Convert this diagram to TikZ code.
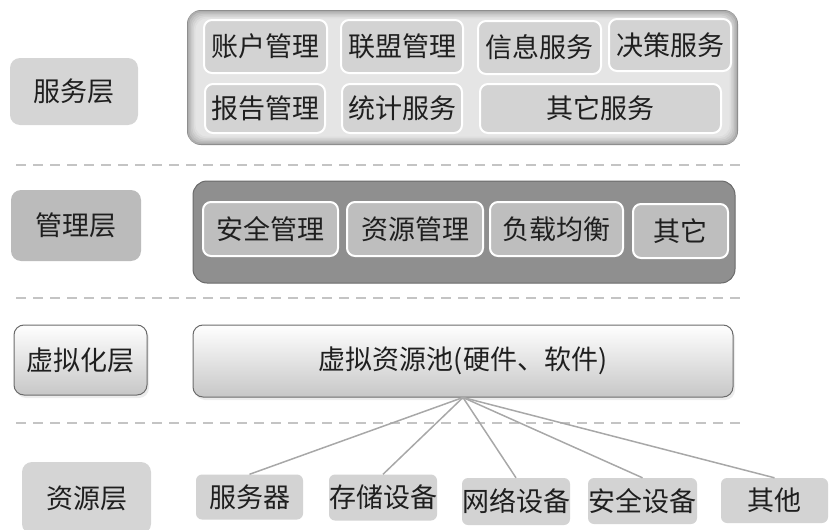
\documentclass[tikz,border=0pt]{standalone}
\usepackage{fontspec}
\newfontfamily\cjk{Noto Sans CJK SC}
\usetikzlibrary{shapes,backgrounds,positioning,shadows,calc}

\definecolor{tagA}{HTML}{D5D5D5}
\definecolor{tagB}{HTML}{BBBBBB}
\definecolor{cellA}{HTML}{D3D3D3}
\definecolor{cellB}{HTML}{BEBEBE}
\definecolor{mgtfill}{HTML}{8F8F8F}
\definecolor{mgtline}{HTML}{6A6A6A}
\definecolor{rimgray}{HTML}{8A8A8A}
\definecolor{dashgray}{HTML}{C4C4C4}
\definecolor{linkgray}{HTML}{A8A8A8}

\begin{document}
\begin{tikzpicture}[x=1pt,y=-1pt,
        every node/.style={font=\cjk\fontsize{27}{32}\selectfont, text=black!88, inner sep=0pt},
        divider/.style={dashgray, line width=2.5pt, dash pattern=on 10pt off 7pt},
        tag/.style={rounded corners=10pt, fill=tagA},
        glossy/.style={rounded corners=10pt, top color=white, bottom color=black!22,
            draw=black!58, line width=1pt,
            drop shadow={opacity=0.15, shadow xshift=2pt, shadow yshift=-3pt}},
        svccell/.style={rounded corners=8pt, fill=cellA, draw=white, line width=2pt},
        mgtcell/.style={rounded corners=8pt, fill=cellB, draw=white, line width=2pt},
        rescell/.style={rounded corners=6pt, fill=cellA},
        link/.style={linkgray, line width=1.5pt}
    ]
    \useasboundingbox (0,0) rectangle (831,530);

    % layer dividers
    \foreach \yy in {165,298,423}
        \draw[divider] (16,\yy) -- (742,\yy);

    % layer names
    \node[tag, minimum width=128pt, minimum height=67pt] (lsvc) at (74,91.5) {服务层};
    \node[tag, fill=tagB, minimum width=130pt, minimum height=71pt] (lmgt) at (76,225.5) {管理层};
    \node[glossy, minimum width=133pt, minimum height=70pt] (lvir) at (80.5,360) {虚拟化层};
    \node[tag, minimum width=129pt, minimum height=72pt] (lres) at (86.5,498) {资源层};

    % service layer
    \node[rounded corners=14pt, fill=rimgray, minimum width=551pt, minimum height=135pt] (svc) at (462.5,77.5) {};
    \foreach \k/\g in {1/32,2.5/26,4/21,5.5/17,7/13,8.5/10}
        \fill[black!\g, rounded corners=12pt] ($(svc.north west)+(\k,\k)$) rectangle ($(svc.south east)-(\k,\k)$);
    \node[svccell, minimum width=123pt, minimum height=53pt] (s1) at (265.5,46.5) {账户管理};
    \node[svccell, minimum width=122pt, minimum height=53pt] (s2) at (402,46.5) {联盟管理};
    \node[svccell, minimum width=123pt, minimum height=53pt] (s3) at (539.5,47.5) {信息服务};
    \node[svccell, minimum width=122pt, minimum height=52pt] (s4) at (670,45) {决策服务};
    \node[svccell, minimum width=120pt, minimum height=49pt] (s5) at (265,108.5) {报告管理};
    \node[svccell, minimum width=120pt, minimum height=49pt] (s6) at (402,108.5) {统计服务};
    \node[svccell, minimum width=241pt, minimum height=49pt] (s7) at (600.5,108.5) {其它服务};

    % management layer
    \node[rounded corners=14pt, fill=mgtfill, draw=mgtline, line width=1pt,
        minimum width=542pt, minimum height=102pt] (mgt) at (464,232) {};
    \node[mgtcell, minimum width=135pt, minimum height=54pt] (m1) at (270.5,229) {安全管理};
    \node[mgtcell, minimum width=136pt, minimum height=54pt] (m2) at (415,229) {资源管理};
    \node[mgtcell, minimum width=133pt, minimum height=54pt] (m3) at (556.5,229) {负载均衡};
    \node[mgtcell, minimum width=95pt, minimum height=54pt] (m4) at (680.5,231) {其它};

    % virtualisation layer
    \node[glossy, minimum width=540pt, minimum height=72pt] (vpool) at (463,361) {虚拟资源池(硬件、软件)};

    % resource layer
    \node[rescell, minimum width=107pt, minimum height=45pt] (r1) at (249.5,497) {服务器};
    \node[rescell, minimum width=108pt, minimum height=46pt] (r2) at (383,497.5) {存储设备};
    \node[rescell, minimum width=108pt, minimum height=47pt] (r3) at (516,501.5) {网络设备};
    \node[rescell, minimum width=109pt, minimum height=46pt] (r4) at (642.5,501) {安全设备};
    \node[rescell, minimum width=107pt, minimum height=45pt] (r5) at (774.5,500.5) {其他};

    \foreach \r in {r1,r2,r3,r4,r5}
        \draw[link] (vpool.south) -- (\r.north);
\end{tikzpicture}
\end{document}
